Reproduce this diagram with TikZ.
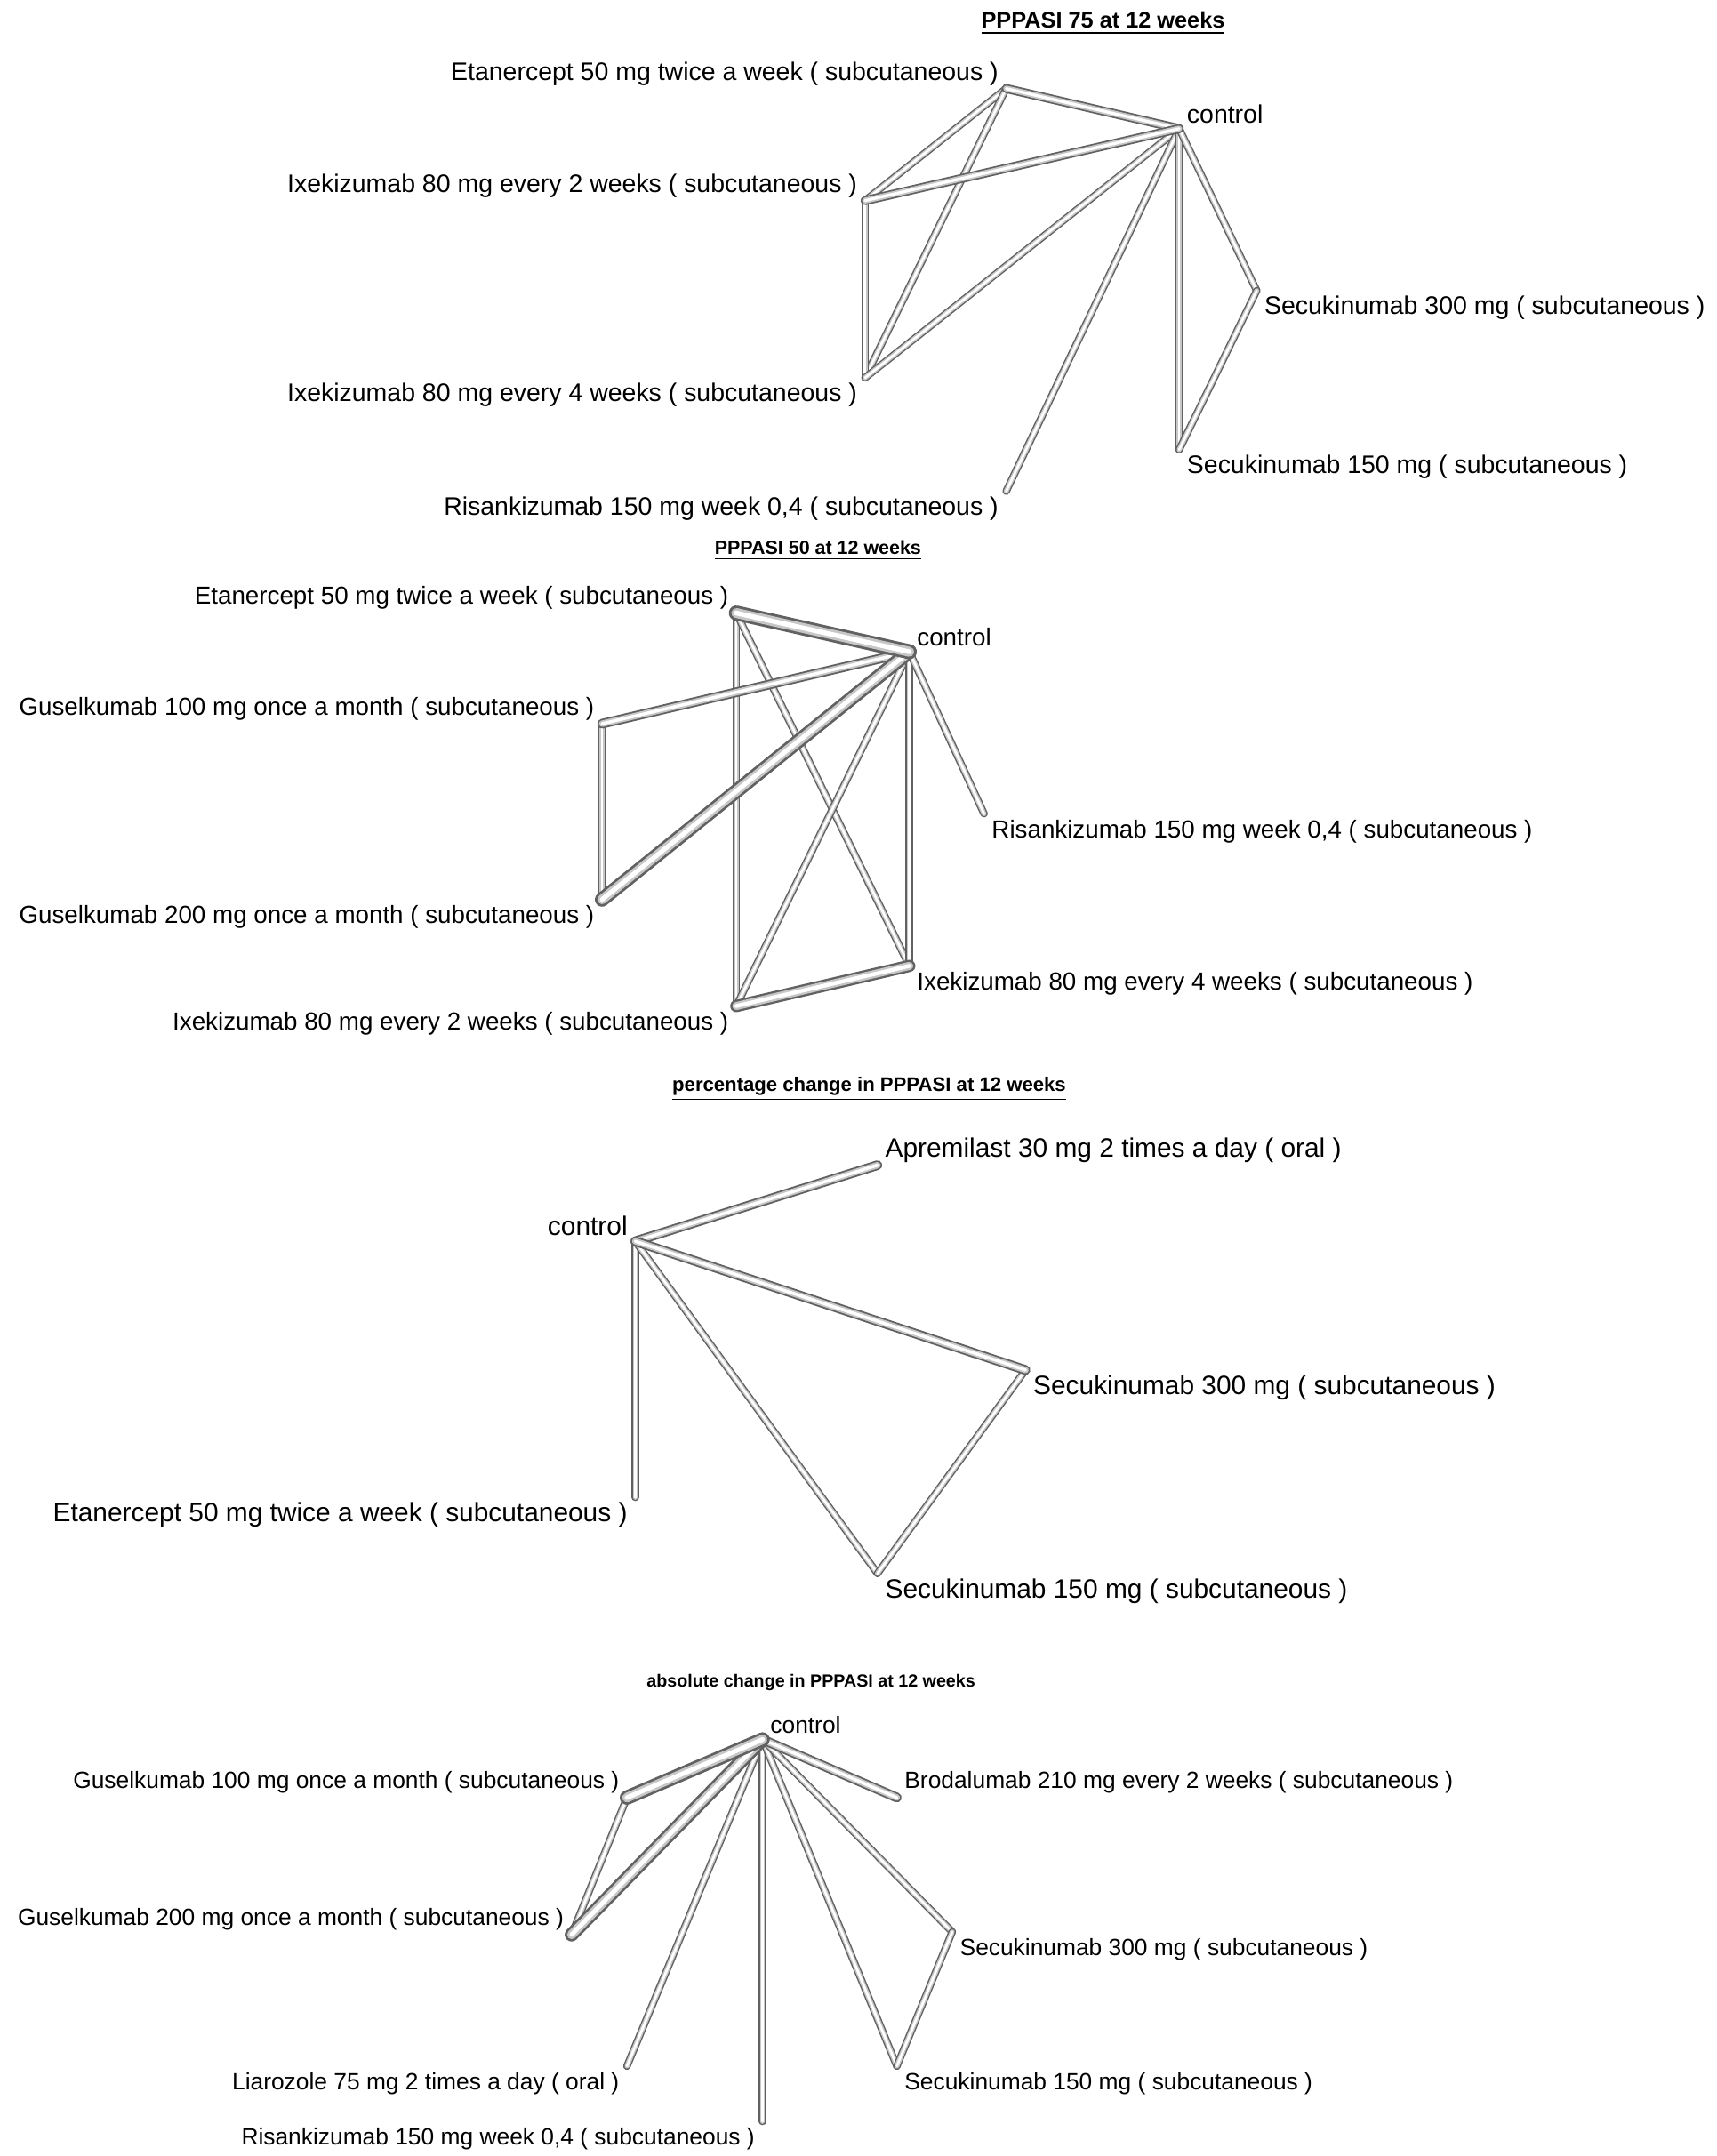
\documentclass[tikz,border=0pt]{standalone}
\usepackage{fontspec}
\setmainfont{Liberation Sans}

\begin{document}
\begin{tikzpicture}
[x=0.015565cm,y=-0.015565cm,
  tube/.style={-,line cap=round,draw=black!62,line width=#1,
    postaction={draw=black!22,line width=0.66*#1},
    postaction={draw=white,line width=0.32*#1}},
  tube/.default=2.4pt,
  titleDecorate/.style={inner sep=0pt,font=\bfseries},
  la/.style={anchor=east,xshift=-2.3pt,yshift=4.8pt,inner sep=0pt},
  lb/.style={anchor=east,xshift=-2.3pt,yshift=-5.6pt,inner sep=0pt},
  ra/.style={anchor=west,xshift=2.3pt,yshift=4.8pt,inner sep=0pt},
  rb/.style={anchor=west,xshift=2.3pt,yshift=-5.6pt,inner sep=0pt}]
\useasboundingbox (0,0) rectangle (1240,1558);

%% PPPASI 75
\node[titleDecorate,font=\fontsize{7.2}{8}\bfseries] (a-title) at (797,17) {\underline{PPPASI 75 at 12 weeks}};
\foreach \nodename/\x/\y/\pos/\txt in {
  a-etan/727/64/la/{Etanercept 50 mg twice a week ( subcutaneous )},
  a-ctrl/852/93/ra/{control},
  a-ixe2/625/145/la/{Ixekizumab 80 mg every 2 weeks ( subcutaneous )},
  a-sec3/908/210/rb/{Secukinumab 300 mg ( subcutaneous )},
  a-ixe4/625/273/lb/{Ixekizumab 80 mg every 4 weeks ( subcutaneous )},
  a-sec1/852/325/rb/{Secukinumab 150 mg ( subcutaneous )},
  a-risa/727/355/lb/{Risankizumab 150 mg week 0,4 ( subcutaneous )}}
{
  \coordinate (\nodename) at (\x,\y);
  \node[\pos,font=\fontsize{8.1}{9}\selectfont] (\nodename-t) at (\nodename) {\txt};
}
\path
\foreach \startnode/\endnode in {
  a-etan/a-ixe2, a-etan/a-ixe4, a-ixe2/a-ixe4, a-ctrl/a-ixe4,
  a-ctrl/a-risa, a-ctrl/a-sec1, a-ctrl/a-sec3, a-sec3/a-sec1}
{
  (\startnode) edge[tube] (\endnode)
}
(a-etan) edge[tube=2.9pt] (a-ctrl)
(a-ctrl) edge[tube=2.9pt] (a-ixe2);

%% PPPASI 50
\node[titleDecorate,font=\fontsize{6.1}{7}\bfseries] (b-title) at (591,398) {\underline{PPPASI 50 at 12 weeks}};
\foreach \nodename/\x/\y/\pos/\txt in {
  b-etan/532/443/la/{Etanercept 50 mg twice a week ( subcutaneous )},
  b-ctrl/657/471/ra/{control},
  b-gus1/435/523/la/{Guselkumab 100 mg once a month ( subcutaneous )},
  b-risa/711/588/rb/{Risankizumab 150 mg week 0,4 ( subcutaneous )},
  b-gus2/435/650/lb/{Guselkumab 200 mg once a month ( subcutaneous )},
  b-ixe4/657/698/rb/{Ixekizumab 80 mg every 4 weeks ( subcutaneous )},
  b-ixe2/532/727/lb/{Ixekizumab 80 mg every 2 weeks ( subcutaneous )}}
{
  \coordinate (\nodename) at (\x,\y);
  \node[\pos,font=\fontsize{7.9}{9}\selectfont] (\nodename-t) at (\nodename) {\txt};
}
\path
\foreach \startnode/\endnode in {
  b-etan/b-ixe2, b-etan/b-ixe4, b-ctrl/b-ixe2, b-ctrl/b-ixe4,
  b-ctrl/b-risa, b-gus1/b-gus2}
{
  (\startnode) edge[tube] (\endnode)
}
(b-ctrl) edge[tube=3.1pt] (b-gus1)
(b-ctrl) edge[tube=4.6pt] (b-gus2)
(b-ixe2) edge[tube=3.9pt] (b-ixe4)
(b-etan) edge[tube=4.8pt] (b-ctrl);

%% percentage change
\node[titleDecorate,font=\fontsize{6.3}{7}\bfseries] (c-title) at (628,787) {\underline{percentage change in PPPASI at 12 weeks}};
\foreach \nodename/\x/\y/\pos/\txt in {
  c-apre/634/842/ra/{Apremilast 30 mg 2 times a day ( oral )},
  c-ctrl/459/897/la/{control},
  c-sec3/741/990/rb/{Secukinumab 300 mg ( subcutaneous )},
  c-etan/459/1082/lb/{Etanercept 50 mg twice a week ( subcutaneous )},
  c-sec1/634/1137/rb/{Secukinumab 150 mg ( subcutaneous )}}
{
  \coordinate (\nodename) at (\x,\y);
  \node[\pos,font=\fontsize{8.5}{10}\selectfont] (\nodename-t) at (\nodename) {\txt};
}
\path
\foreach \startnode/\endnode in {
  c-ctrl/c-etan, c-ctrl/c-sec1, c-sec3/c-sec1}
{
  (\startnode) edge[tube] (\endnode)
}
(c-ctrl) edge[tube=3.1pt] (c-apre)
(c-ctrl) edge[tube=3.1pt] (c-sec3);

%% absolute change
\node[titleDecorate,font=\fontsize{5.6}{6.5}\bfseries] (d-title) at (586,1218) {\underline{absolute change in PPPASI at 12 weeks}};
\foreach \nodename/\x/\y/\pos/\txt in {
  d-ctrl/551/1257/ra/{control},
  d-gus1/453/1299/la/{Guselkumab 100 mg once a month ( subcutaneous )},
  d-brod/648/1299/ra/{Brodalumab 210 mg every 2 weeks ( subcutaneous )},
  d-gus2/413/1398/la/{Guselkumab 200 mg once a month ( subcutaneous )},
  d-sec3/688/1396/rb/{Secukinumab 300 mg ( subcutaneous )},
  d-liar/453/1493/lb/{Liarozole 75 mg 2 times a day ( oral )},
  d-sec1/648/1493/rb/{Secukinumab 150 mg ( subcutaneous )},
  d-risa/551/1533/lb/{Risankizumab 150 mg week 0,4 ( subcutaneous )}}
{
  \coordinate (\nodename) at (\x,\y);
  \node[\pos,font=\fontsize{7.5}{9}\selectfont] (\nodename-t) at (\nodename) {\txt};
}
\path
\foreach \startnode/\endnode in {
  d-gus1/d-gus2, d-ctrl/d-liar, d-ctrl/d-risa, d-ctrl/d-sec1,
  d-ctrl/d-sec3, d-sec3/d-sec1}
{
  (\startnode) edge[tube] (\endnode)
}
(d-ctrl) edge[tube=3.1pt] (d-brod)
(d-ctrl) edge[tube=4.4pt] (d-gus2)
(d-ctrl) edge[tube=4.6pt] (d-gus1);
\end{tikzpicture}
\end{document}
